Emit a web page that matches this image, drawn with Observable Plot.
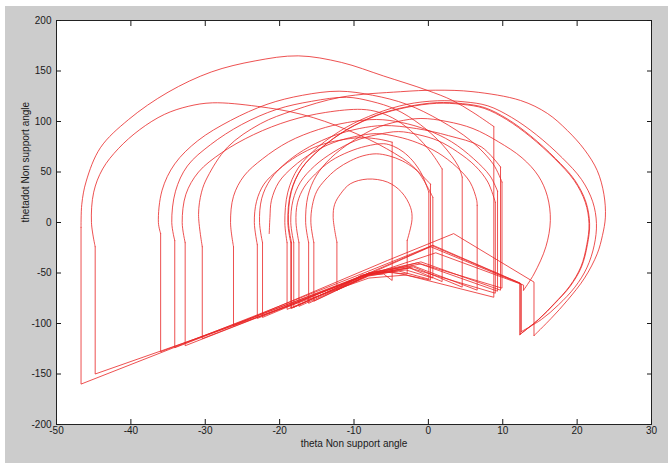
<!DOCTYPE html>
<html><head><meta charset="utf-8">
<script src="https://cdn.jsdelivr.net/npm/d3@7"></script>
<script src="https://cdn.jsdelivr.net/npm/@observablehq/plot@0.6"></script>
<style>
html,body{margin:0;padding:0;background:#fff;}
#bg{position:absolute;left:5px;top:6px;width:663px;height:457px;background:#cccccc;}
#fig{position:absolute;left:0;top:0;width:668px;height:466px;}
</style></head>
<body><div id="bg"></div><div id="fig"></div>
<script>
const xTicks = [-50, -40, -30, -20, -10, 0, 10, 20, 30];
const yTicks = [-200, -150, -100, -50, 0, 50, 100, 150, 200];
const xLabel = "theta Non support angle";
const yLabel = "thetadot Non support angle";

// swing arcs: (theta, thetadot) pairs
const arcs = [
  [-46.7,-5, -46.6,18, -46.0,41, -44.1,74, -40.3,102, -35,129, -29.2,149, -23.3,160, -17.5,165, -11.7,158.5, -6,145, -0.2,131, 3.2,121, 6,109, 8.8,95],
  [-44.8,-24, -45.3,0, -45,30, -43.8,53, -41.7,73, -38.8,92, -35.5,107, -32.3,115, -29,118.5, -23,115, -17,107, -11,92, -5.6,73, -1.7,53, 0.6,25],
  [-36,-11, -36.3,0, -35.8,32, -34.1,58, -31,81, -26.6,101, -21.7,117, -16.9,126, -12,130, -7.5,126, -2.9,117, 1.6,101, 5.7,81, 8.7,58, 9.9,40],
  [-34.1,-18, -34.5,0, -34,31, -32.4,56, -29.3,77, -25.1,97, -20.4,112, -15.7,120, -11,124, -7.7,120, -4.4,112, -1.1,97, 1.9,77, 4,56, 4.55,45],
  [-32.7,-20, -33.1,0, -32.6,28, -30.9,50, -27.8,69, -23.5,87, -18.6,101, -13.8,109, -9,112, -6.6,109, -4.2,101, -1.8,87, 0.4,69, 1.85,53],
  [-30.4,-24, -30.9,8, -30.5,30, -29.7,45, -27,74.6, -22.6,97.7, -18.1,111, -11.8,124, -3.75,129.5, 1,131, 6,129.5, 12.4,120.8, 16,108, 18.7,91, 21,72, 22.7,51.5, 23.6,28, 23.8,5.3, 23.4,-13, 22.7,-31, 21,-55, 18.7,-77, 16.5,-95, 14.2,-112],
  [-26.2,-24, -26.6,0, -26.2,26, -24.8,46, -22.3,63, -18.8,80, -14.8,92, -10.9,99, -7,102, -3.6,99, -0.3,92, 3.1,80, 6.1,63, 8.3,46, 9.3,31],
  [-23,-22, -23.4,0, -23.1,21, -22.1,38, -20.2,52, -17.6,66, -14.8,76, -11.9,81.5, -9,84, -6.5,82.3, -4.87,79.5],
  [-22.3,-20, -22.7,0, -22.4,24, -21.2,43, -19,60, -16,75, -12.7,86, -9.3,93, -6,96, -1.6,93, 2.7,86, 7.1,75, 9.7,55],
  [-21.4,-11, -21.3,5, -21.1,22, -20.1,40, -18.2,55, -15.6,69, -12.8,79, -9.9,85, -7,88, -4.2,85, -1.5,79, 1.3,69, 3.8,55, 5.6,40, 6.5,22, 6.56,17],
  [-19,-20, -19.3,0, -18.9,30, -17.5,54, -14.8,75, -11.1,94, -7,108, -2.9,117, 1.2,120.5, 4.8,119.5, 8,115.5, 11.2,104, 14.5,87, 18,64, 20.6,42.5, 22.1,20.5, 22.6,-1, 22.3,-22.5, 21.3,-45, 19.7,-64, 17.5,-81.5, 15.2,-96, 12.5,-108],
  [-18.5,-20, -18.9,0, -18.5,30, -17.1,53, -14.5,73, -10.9,92, -6.9,106, -2.9,114, 1.1,118, 4.5,117, 7.5,113, 10.5,102, 13.7,85, 17,63, 19.6,41.6, 21.1,20, 21.6,-1.3, 21.3,-22, 20.5,-44, 19,-63, 16.9,-80.5, 14.8,-96, 12.3,-111],
  [-18.4,-20, -18.82,0.5, -18.42,30.7, -17.02,53.7, -14.42,73.7, -10.82,92.7, -6.82,106.7, -2.82,114.7, 1.18,118.7, 4.58,117.7, 7.58,113.7, 10.58,102.7, 13.78,85.6, 17.08,63.5, 19.68,42, 21.18,20.3, 21.68,-1.2, 21.38,-22, 20.58,-44, 19.08,-63, 16.98,-80.3, 14.88,-95.7, 12.35,-110.5],
  [-18.1,-20, -18.5,0, -18.2,22, -17.2,40, -15.3,56, -12.7,70, -9.8,81, -6.9,87, -4,90, -1.4,87, 1.3,81, 3.9,70, 6.3,56, 8,40, 9,20],
  [-17.4,-20, -17.8,0, -17.6,19.5, -16.7,35, -15.2,48, -13.1,61, -10.7,70, -8.4,75.5, -6,78, -4.7,75.5, -3.4,70, -2.1,61, -0.9,48, 0.06,30],
  [-16.1,-20, -16.5,0, -16.2,26, -15.1,46, -13.1,64, -10.3,80, -7.2,93, -4.1,100, -1,103, 2.5,100, 6,93, 9.4,80, 12.6,64, 14.8,46, 16,26, 16.4,2, 15.8,-24, 14.2,-51, 12.8,-67],
  [-15.4,-20, -15.8,0, -15.6,17, -15,31, -13.9,42, -12.3,53, -10.5,61, -8.8,66, -7,68, -5.3,66, -3.5,61, -1.8,53, 0.28,38],
  [-12.3,-19.5, -12.8,5, -12.6,18, -11.8,28.4, -10.5,38.3, -8.2,43, -5.5,40, -3.6,30, -2.4,15, -2.2,3, -2.85,-17.8]
];

// impact jumps and stance segments: (theta, thetadot) pairs
const drops = [
  [8.8,95, 8.8,-74, -3,-52, -8,-55, -44.8,-150, -44.8,-24],
  [0.6,25, 0.6,-55, -3,-47, -8,-51, -36,-128, -36,-11],
  [9.9,40, 9.9,-65, -1,-41, -8,-50, -34.1,-124, -34.1,-18],
  [4.55,45, 4.55,-64, -2,-44, -8,-51, -32.7,-122, -32.7,-20],
  [1.85,53, 1.85,-58.5, -2.5,-45, -8,-51, -30.4,-115, -30.4,-24],
  [14.2,-112, 14.2,-59, 3.4,-11, -5.5,-37.6, -26.2,-102, -26.2,-24],
  [9.3,31, 9.3,-68, -1.5,-40, -8,-50, -23,-95, -23,-22],
  [-4.87,79.5, -4.87,-57.4, -6,-51, -9,-53, -22.3,-94, -22.3,-20],
  [9.7,55, 9.7,-67, -1,-39, -8,-52, -19,-86, -19,-20],
  [12.5,-108, 12.5,-61, 0.3,-24, -8,-51, -18.5,-85, -18.5,-20],
  [12.3,-111, 12.3,-60, 0.5,-23, -8,-50, -18.4,-85, -18.4,-20],
  [12.35,-110.5, 12.35,-60, 0.6,-22.5, -8,-48, -46.7,-160, -46.7,-5],
  [6.56,17, 6.56,-67, -2,-43, -8,-50, -18.1,-84, -18.1,-20],
  [9,20, 9,-70, -2.5,-45, -8,-52, -17.4,-83, -17.4,-20],
  [0.06,30, 0.06,-56, -4,-48, -8,-52, -16.1,-80, -16.1,-20],
  [12.8,-67, 12.8,-62, 1,-30, -8,-52, -15.4,-78, -15.4,-20],
  [0.28,38, 0.28,-57, -5,-49, -8,-53, -12.3,-67, -12.3,-19.5],
  [-2.85,-17.8, -2.85,-51, -6,-49, -9,-52, -12.3,-67]
];

function toRows(list, tag) {
  const rows = [];
  list.forEach((pts, i) => {
    for (let k = 0; k < pts.length; k += 2) rows.push({x: pts[k], y: pts[k + 1], id: tag + i});
  });
  return rows;
}
const arcRows = toRows(arcs, "arc");
const dropRows = toRows(drops, "drop");

const red = "#e82424";
const fmt = d => String(d);
const noText = () => "";

const chart = Plot.plot({
  width: 668,
  height: 466,
  marginLeft: 56,
  marginRight: 17,
  marginTop: 20,
  marginBottom: 42,
  x: {domain: [-50, 30]},
  y: {domain: [-200, 200]},
  style: {background: "transparent", fontFamily: "'Liberation Sans', Arial, sans-serif", fontSize: "10px", color: "#1a1a1a"},
  marks: [
    Plot.frame({fill: "white"}),
    Plot.line(dropRows, {x: "x", y: "y", z: "id", stroke: red, strokeWidth: 0.8}),
    Plot.line(arcRows, {x: "x", y: "y", z: "id", stroke: red, strokeWidth: 0.8, curve: "catmull-rom"}),
    Plot.frame({stroke: "#222", strokeWidth: 1}),
    Plot.axisX(xTicks, {anchor: "bottom", tickSize: 5, dy: -5, tickFormat: noText, label: null}),
    Plot.axisX(xTicks, {anchor: "top", tickSize: 5, dy: 5, tickFormat: noText, label: null}),
    Plot.axisY(yTicks, {anchor: "left", tickSize: 5, dx: 5, tickFormat: noText, label: null}),
    Plot.axisY(yTicks, {anchor: "right", tickSize: 5, dx: -5, tickFormat: noText, label: null}),
    Plot.axisX(xTicks, {anchor: "bottom", tickSize: 0, tickPadding: 2, tickFormat: fmt, label: null}),
    Plot.axisY(yTicks, {anchor: "left", tickSize: 0, tickPadding: 5, tickFormat: fmt, label: null}),
    Plot.text([xLabel], {text: d => d, frameAnchor: "bottom", dy: 22}),
    Plot.text([yLabel], {text: d => d, frameAnchor: "left", dx: -31, rotate: -90})
  ]
});
document.getElementById("fig").appendChild(chart);
</script>
</body></html>
